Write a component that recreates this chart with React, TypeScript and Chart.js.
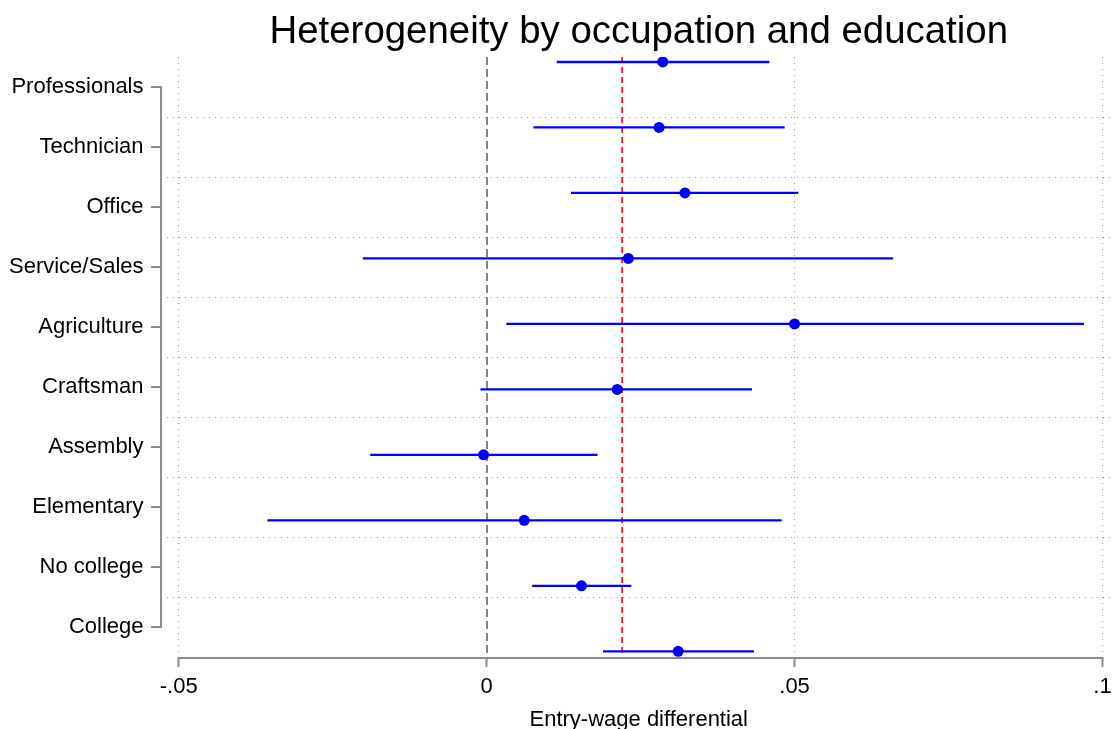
import { useEffect, useRef } from 'react';
import { Chart, registerables } from 'chart.js';

Chart.register(...registerables);

const categories = [
  'Professionals',
  'Technician',
  'Office',
  'Service/Sales',
  'Agriculture',
  'Craftsman',
  'Assembly',
  'Elementary',
  'No college',
  'College',
];
const estimates = [0.0286, 0.028, 0.0322, 0.023, 0.05, 0.0212, -0.0005, 0.0061, 0.0154, 0.0311];
const ciLow = [0.0114, 0.0076, 0.0137, -0.0201, 0.0032, -0.001, -0.0189, -0.0356, 0.0074, 0.0189];
const ciHigh = [0.0459, 0.0484, 0.0506, 0.066, 0.097, 0.0431, 0.018, 0.0479, 0.0235, 0.0434];
const xTicks = [-0.05, 0, 0.05, 0.1];
const xTickLabels = ['-.05', '0', '.05', '.1'];
const averageEffect = 0.022;

const FONT = "'Liberation Sans', Arial, sans-serif";
const BLUE = '#0000ff';
const AXIS_GREY = '#8c8c8c';
const GRID_GREY = '#999999';
const CLEAR = 'rgba(0,0,0,0)';

const axesAndRefs = {
  id: 'axesAndRefs',
  beforeDatasetsDraw(chart: any) {
    const { ctx, chartArea: a, scales } = chart;
    const x = scales.x;
    const y = scales.y;
    ctx.save();
    // zero reference line
    const x0 = Math.round(x.getPixelForValue(0));
    ctx.strokeStyle = '#858585';
    ctx.lineWidth = 2;
    ctx.setLineDash([8, 4]);
    ctx.beginPath();
    ctx.moveTo(x0, a.top);
    ctx.lineTo(x0, a.bottom);
    ctx.stroke();
    // average effect line
    const xr = x.getPixelForValue(averageEffect);
    ctx.strokeStyle = '#ff0000';
    ctx.lineWidth = 1.6;
    ctx.setLineDash([6, 4]);
    ctx.beginPath();
    ctx.moveTo(xr, a.top);
    ctx.lineTo(xr, a.bottom);
    ctx.stroke();
    ctx.setLineDash([]);
    // x axis line
    ctx.strokeStyle = AXIS_GREY;
    ctx.lineWidth = 2;
    const xa = x.getPixelForValue(xTicks[0]);
    const xb = x.getPixelForValue(xTicks[xTicks.length - 1]);
    ctx.beginPath();
    ctx.moveTo(xa - 1, a.bottom + 1);
    ctx.lineTo(xb + 1, a.bottom + 1);
    ctx.stroke();
    // y axis line with ticks
    const ax = a.left - 6;
    const y0 = y.getPixelForTick(0);
    const yn = y.getPixelForTick(categories.length - 1);
    ctx.beginPath();
    ctx.moveTo(ax, y0 - 1);
    ctx.lineTo(ax, yn + 1);
    ctx.stroke();
    for (let i = 0; i < categories.length; i++) {
      const py = Math.round(y.getPixelForTick(i));
      ctx.beginPath();
      ctx.moveTo(ax - 10, py);
      ctx.lineTo(ax + 1, py);
      ctx.stroke();
    }
    ctx.restore();
  },
};

export default function App() {
  const ref = useRef<HTMLCanvasElement>(null);

  useEffect(() => {
    if (!ref.current) return;
    const ciSets = categories.map((_, i) => ({
      type: 'scatter' as const,
      data: [
        { x: ciLow[i], y: i },
        { x: ciHigh[i], y: i },
      ],
      showLine: true,
      borderColor: BLUE,
      borderWidth: 2.3,
      pointRadius: 0,
      yAxisID: 'yp',
    }));
    const chart = new Chart(ref.current, {
      type: 'scatter',
      data: {
        datasets: [
          {
            data: estimates.map((v, i) => ({ x: v, y: i })),
            pointRadius: 5.5,
            pointHoverRadius: 5.5,
            backgroundColor: BLUE,
            borderColor: BLUE,
            borderWidth: 0,
            showLine: false,
            yAxisID: 'yp',
          },
          ...ciSets,
        ] as any,
      },
      options: {
        responsive: false,
        devicePixelRatio: 1,
        animation: false,
        layout: { padding: { left: 0, right: 3, top: 0, bottom: 0 } },
        plugins: {
          legend: { display: false },
          tooltip: { enabled: false },
          title: {
            display: true,
            text: 'Heterogeneity by occupation and education',
            fullSize: false,
            color: '#000',
            font: { family: FONT, size: 38.4, weight: 'normal', lineHeight: 1.1 },
            padding: { top: 11.7, bottom: 3.06 },
          },
        },
        scales: {
          x: {
            type: 'linear',
            position: 'bottom',
            min: -0.0519,
            max: 0.1013,
            afterBuildTicks: (s: any) => {
              s.ticks = xTicks.map((v) => ({ value: v }));
            },
            afterFit: (s: any) => {
              s.height = 72;
              s.paddingLeft = 0;
              s.paddingRight = 0;
            },
            ticks: {
              autoSkip: false,
              maxRotation: 0,
              padding: 7,
              color: '#000',
              font: { family: FONT, size: 22 },
              callback: (v: any) => {
                const idx = xTicks.findIndex((t) => Math.abs(t - Number(v)) < 1e-9);
                return idx >= 0 ? xTickLabels[idx] : '';
              },
            },
            grid: {
              color: (c: any) => (c.tick && Math.abs(c.tick.value) < 1e-9 ? CLEAR : GRID_GREY),
              lineWidth: 1,
              drawTicks: true,
              tickLength: 10,
              tickColor: AXIS_GREY,
              tickWidth: 2,
              tickBorderDash: [],
            },
            border: { display: false, dash: [1, 5] },
            title: {
              display: true,
              text: 'Entry-wage differential',
              color: '#000',
              font: { family: FONT, size: 22, lineHeight: 1 },
              padding: { top: 0, bottom: -1.5 },
            },
          },
          y: {
            type: 'category',
            labels: categories,
            position: 'left',
            offset: true,
            afterFit: (s: any) => {
              s.width = 167;
              s.paddingTop = 0;
              s.paddingBottom = 0;
            },
            ticks: {
              autoSkip: false,
              padding: 23.5,
              labelOffset: -0.5,
              color: '#000',
              font: { family: FONT, size: 22 },
            },
            grid: {
              offset: true,
              drawTicks: false,
              lineWidth: 1,
              color: (c: any) => (c.type !== 'tick' || c.index === 0 ? CLEAR : GRID_GREY),
            },
            border: { display: false, dash: [1, 5] },
          },
          yp: {
            type: 'linear',
            display: false,
            reverse: true,
            min: -0.076,
            max: 9.087,
          },
        },
      } as any,
      plugins: [axesAndRefs],
    });
    return () => chart.destroy();
  }, []);

  return (
    <div style={{ position: 'absolute', left: 0, top: 0, width: 1116, height: 729, background: '#fff' }}>
      <canvas ref={ref} width={1116} height={729} style={{ display: 'block' }} />
    </div>
  );
}
